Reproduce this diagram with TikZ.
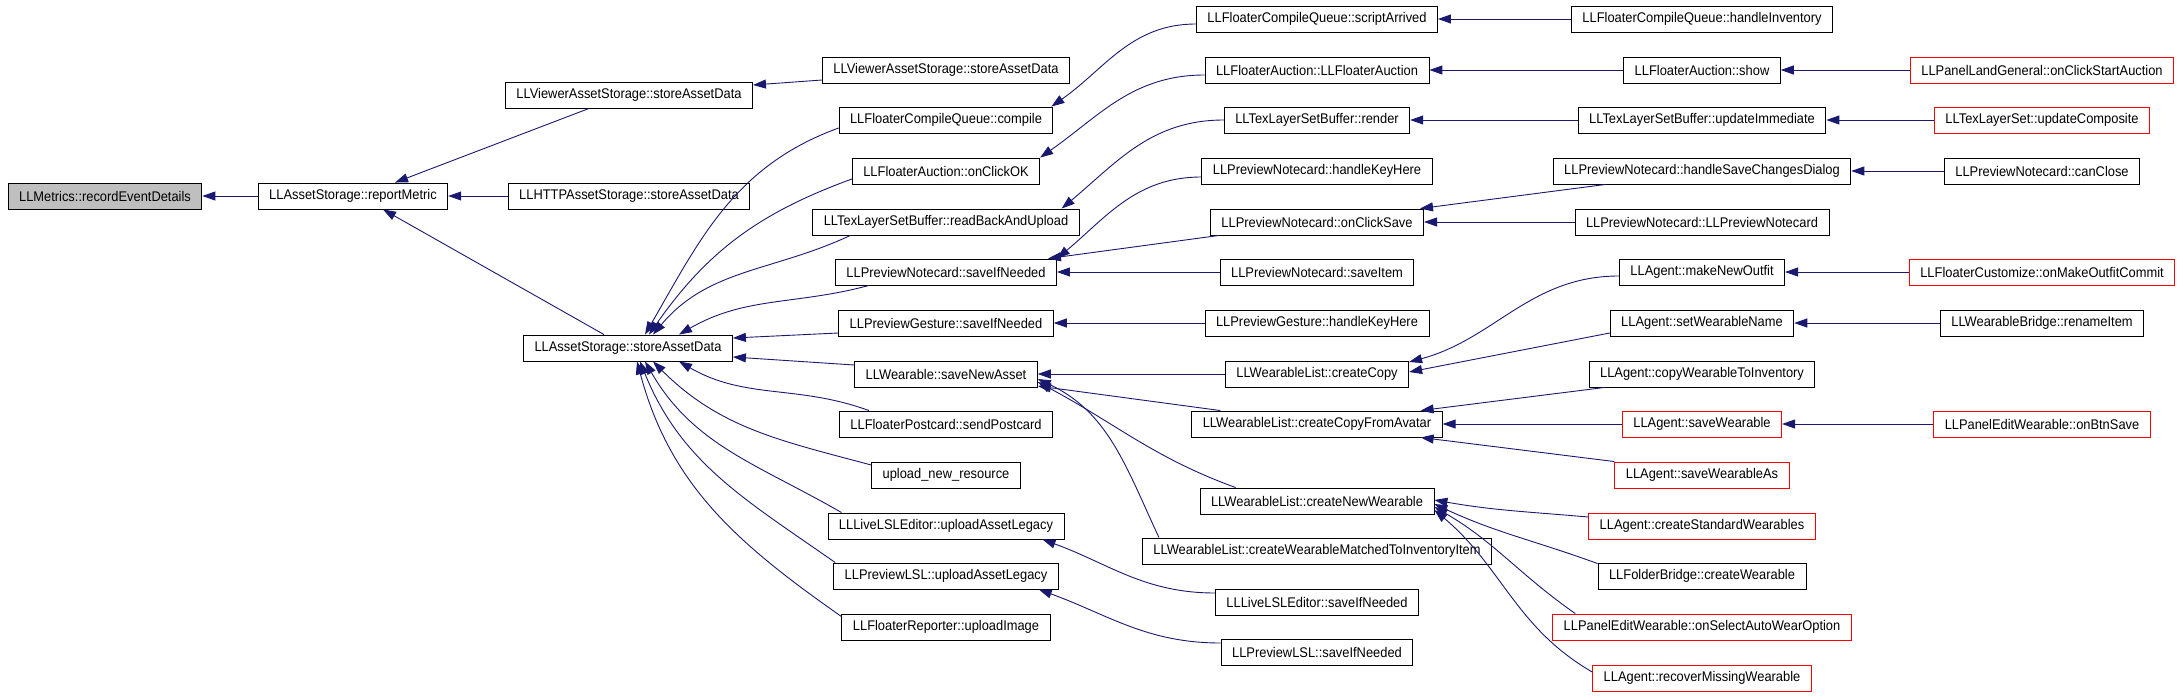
\documentclass[tikz,border=0pt]{standalone}
\usepackage{fontspec}
\setmainfont{Liberation Sans}[FakeStretch=0.92]
\usetikzlibrary{arrows.meta}
\definecolor{callblue}{HTML}{191970}
\tikzset {
  % plain function box
  func/.style = {
    draw = black,
    line width = 0.9pt,
    rectangle,
    minimum height = 26pt,
    inner xsep = 11pt,
    font = \fontsize{14}{16}\selectfont
  },
  % function whose callers are cut off
  trunc/.style = {
    func,
    draw = red
  },
  % the function the graph is about
  root/.style = {
    func,
    fill = gray!50
  }
}
\tikzset {
  % caller to callee
  call/.style = {
    draw = callblue,
    line width = 0.9pt,
    -{Triangle[length=13pt,width=9pt]}
  }
}

\begin{document}
\begin{tikzpicture}[x=1pt, y=-1pt]
    \useasboundingbox (0,0) rectangle (2184,696);

    % rank 0 to 2
    \node[root] (metrics) at (105,196) {LLMetrics::recordEventDetails};
    \node[func] (report) at (353,196) {LLAssetStorage::reportMetric};
    \node[func] (viewerA) at (629,95) {LLViewerAssetStorage::storeAssetData};
    \node[func] (httpA) at (629,196) {LLHTTPAssetStorage::storeAssetData};
    \node[func] (storeA) at (628,348) {LLAssetStorage::storeAssetData};

    % rank 3
    \node[func] (viewerB) at (946,70) {LLViewerAssetStorage::storeAssetData};
    \node[func] (compile) at (946,120) {LLFloaterCompileQueue::compile};
    \node[func] (clickOK) at (946,171) {LLFloaterAuction::onClickOK};
    \node[func] (readBack) at (946,222) {LLTexLayerSetBuffer::readBackAndUpload};
    \node[func] (ncSave) at (946,272) {LLPreviewNotecard::saveIfNeeded};
    \node[func] (gsSave) at (946,323) {LLPreviewGesture::saveIfNeeded};
    \node[func] (saveNew) at (946,374) {LLWearable::saveNewAsset};
    \node[func] (postcard) at (946,424) {LLFloaterPostcard::sendPostcard};
    \node[func] (uploadNew) at (946,475) {upload\_new\_resource};
    \node[func] (liveUpload) at (946,526) {LLLiveLSLEditor::uploadAssetLegacy};
    \node[func] (lslUpload) at (946,576) {LLPreviewLSL::uploadAssetLegacy};
    \node[func] (reporter) at (946,627) {LLFloaterReporter::uploadImage};

    % rank 4
    \node[func] (scriptArr) at (1317,19) {LLFloaterCompileQueue::scriptArrived};
    \node[func] (auctionNew) at (1317,70) {LLFloaterAuction::LLFloaterAuction};
    \node[func] (render) at (1317,120) {LLTexLayerSetBuffer::render};
    \node[func] (ncKey) at (1317,171) {LLPreviewNotecard::handleKeyHere};
    \node[func] (ncClick) at (1317,222) {LLPreviewNotecard::onClickSave};
    \node[func] (ncItem) at (1317,272) {LLPreviewNotecard::saveItem};
    \node[func] (gsKey) at (1317,323) {LLPreviewGesture::handleKeyHere};
    \node[func] (wlCopy) at (1317,374) {LLWearableList::createCopy};
    \node[func] (wlAvatar) at (1317,424) {LLWearableList::createCopyFromAvatar};
    \node[func] (wlNew) at (1317,501) {LLWearableList::createNewWearable};
    \node[func] (wlMatched) at (1317,551) {LLWearableList::createWearableMatchedToInventoryItem};
    \node[func] (liveSave) at (1317,602) {LLLiveLSLEditor::saveIfNeeded};
    \node[func] (lslSave) at (1317,652) {LLPreviewLSL::saveIfNeeded};

    % rank 5
    \node[func] (handleInv) at (1702,19) {LLFloaterCompileQueue::handleInventory};
    \node[func] (auctionShow) at (1702,70) {LLFloaterAuction::show};
    \node[func] (updImm) at (1702,120) {LLTexLayerSetBuffer::updateImmediate};
    \node[func] (ncDialog) at (1702,171) {LLPreviewNotecard::handleSaveChangesDialog};
    \node[func] (ncCtor) at (1702,222) {LLPreviewNotecard::LLPreviewNotecard};
    \node[func] (newOutfit) at (1702,272) {LLAgent::makeNewOutfit};
    \node[func] (setName) at (1702,323) {LLAgent::setWearableName};
    \node[func] (copyInv) at (1702,374) {LLAgent::copyWearableToInventory};
    \node[trunc] (saveWear) at (1702,424) {LLAgent::saveWearable};
    \node[trunc] (saveWearAs) at (1702,475) {LLAgent::saveWearableAs};
    \node[trunc] (stdWear) at (1702,526) {LLAgent::createStandardWearables};
    \node[func] (folderWear) at (1702,576) {LLFolderBridge::createWearable};
    \node[trunc] (autoWear) at (1702,627) {LLPanelEditWearable::onSelectAutoWearOption};
    \node[trunc] (recoverWear) at (1702,678) {LLAgent::recoverMissingWearable};

    % rank 6
    \node[trunc] (startAuction) at (2042,70) {LLPanelLandGeneral::onClickStartAuction};
    \node[trunc] (updComposite) at (2042,120) {LLTexLayerSet::updateComposite};
    \node[func] (canClose) at (2042,171) {LLPreviewNotecard::canClose};
    \node[trunc] (outfitCommit) at (2042,272) {LLFloaterCustomize::onMakeOutfitCommit};
    \node[func] (renameItem) at (2042,323) {LLWearableBridge::renameItem};
    \node[trunc] (btnSave) at (2042,424) {LLPanelEditWearable::onBtnSave};

    % calls into rank 0 to 2
    \draw[call] (report) -- (metrics);
    \draw[call] ([xshift=-40pt]viewerA.south) -- ([xshift=42pt]report.north);
    \draw[call] (httpA) -- (report);
    \draw[call] ([xshift=-24pt]storeA.north) -- ([xshift=30pt]report.south);
    \draw[call] ([yshift=-10pt]viewerB.west) -- ([yshift=10pt]viewerA.east);
    \draw[call] ([yshift=-8pt]compile.west) to[out=200,in=60] ([xshift=17pt]storeA.north);
    \draw[call] ([yshift=-8pt]clickOK.west) to[out=200,in=55] ([xshift=21pt]storeA.north);
    \draw[call] ([xshift=38pt]readBack.south west) to[out=205,in=50] ([xshift=25pt]storeA.north);
    \draw[call] ([xshift=34pt]ncSave.south west) to[out=195,in=30] ([xshift=51pt]storeA.north);
    \draw[call] ([yshift=-10pt]gsSave.west) -- ([yshift=10pt]storeA.east);
    \draw[call] ([yshift=9pt]saveNew.west) -- ([yshift=-9pt]storeA.east);
    \draw[call] ([xshift=30pt]postcard.north west) to[out=160,in=-30] ([xshift=51pt]storeA.south);
    \draw[call] ([yshift=10pt]uploadNew.west) to[out=165,in=-45] ([xshift=25pt]storeA.south);
    \draw[call] ([xshift=14pt]liveUpload.north west) to[out=150,in=-60] ([xshift=17pt]storeA.south);
    \draw[call] ([xshift=2pt]lslUpload.north west) to[out=145,in=-68] ([xshift=12pt]storeA.south);
    \draw[call] ([yshift=-3pt]reporter.north west) to[out=145,in=-75] ([xshift=9pt]storeA.south);

    % calls into rank 3
    \draw[call] ([yshift=-5pt]scriptArr.west) to[out=180,in=35] ([xshift=-2pt]compile.north east);
    \draw[call] ([yshift=-5pt]auctionNew.west) to[out=180,in=35] (clickOK.north east);
    \draw[call] (render.west) to[out=180,in=40] ([xshift=-18pt]readBack.north east);
    \draw[call] ([yshift=-6pt]ncKey.west) to[out=180,in=40] (ncSave.north east);
    \draw[call] ([xshift=9pt]ncClick.south west) -- ([xshift=-9pt]ncSave.north east);
    \draw[call] (ncItem) -- (ncSave);
    \draw[call] (gsKey) -- (gsSave);
    \draw[call] (wlCopy) -- (saveNew);
    \draw[call] ([xshift=29pt]wlAvatar.north west) -- ([yshift=-12pt]saveNew.east);
    \draw[call] ([xshift=36pt]wlNew.north west) to[out=160,in=-28] ([yshift=-8pt]saveNew.east);
    \draw[call] ([xshift=17pt]wlMatched.north west) to[out=115,in=-25] ([yshift=-5pt]saveNew.east);
    \draw[call] ([yshift=9pt]liveSave.west) to[out=180,in=-20] ([xshift=-22pt]liveUpload.south east);
    \draw[call] ([yshift=9pt]lslSave.west) to[out=180,in=-20] ([xshift=-20pt]lslUpload.south east);

    % calls into rank 4
    \draw[call] (handleInv) -- (scriptArr);
    \draw[call] (auctionShow) -- (auctionNew);
    \draw[call] (updImm) -- (render);
    \draw[call] ([xshift=53pt]ncDialog.south west) -- ([xshift=-4pt]ncClick.north east);
    \draw[call] (ncCtor) -- (ncClick);
    \draw[call] ([yshift=-4pt]newOutfit.west) to[out=180,in=15] ([yshift=12pt]wlCopy.east);
    \draw[call] ([yshift=-10pt]setName.west) -- ([yshift=2pt]wlCopy.east);
    \draw[call] ([xshift=16pt]copyInv.south west) -- ([xshift=-22pt]wlAvatar.north east);
    \draw[call] (saveWear) -- (wlAvatar);
    \draw[call] (saveWearAs.north west) -- ([xshift=-22pt]wlAvatar.south east);
    \draw[call] ([yshift=9pt]stdWear.west) to[out=175,in=-10] ([yshift=1pt]wlNew.east);
    \draw[call] ([yshift=-1pt]folderWear.north west) to[out=160,in=-25] ([yshift=-3pt]wlNew.east);
    \draw[call] ([xshift=23pt]autoWear.north west) to[out=145,in=-30] ([yshift=-6pt]wlNew.east);
    \draw[call] ([yshift=6pt]recoverWear.west) to[out=150,in=-40] ([yshift=-9pt]wlNew.east);

    % calls into rank 5
    \draw[call] (startAuction) -- (auctionShow);
    \draw[call] (updComposite) -- (updImm);
    \draw[call] (canClose) -- (ncDialog);
    \draw[call] (outfitCommit) -- (newOutfit);
    \draw[call] (renameItem) -- (setName);
    \draw[call] (btnSave) -- (saveWear);
\end{tikzpicture}
\end{document}
